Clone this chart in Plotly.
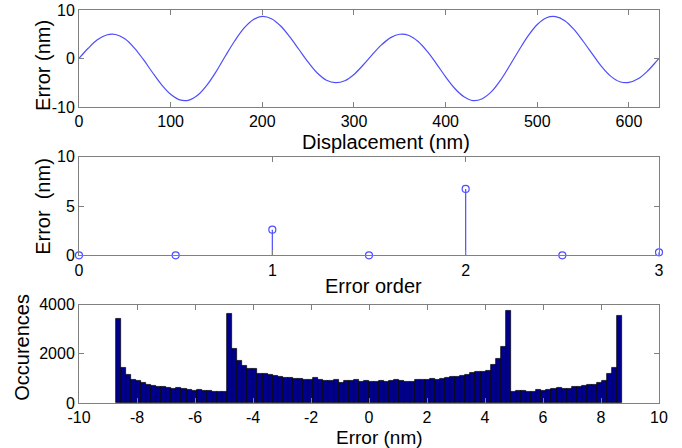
import numpy as np
import plotly.graph_objects as go

# ---- data ----
disp_nm = [0, 10, 20, 30, 40, 50, 60, 70, 80, 90, 100, 110, 120, 130, 140, 150,
           160, 170, 180, 190, 200, 210, 220, 230, 240, 250, 260, 270, 280, 290,
           300, 310, 320, 330, 340, 350, 360, 370, 380, 390, 400, 410, 420, 430,
           440, 450, 460, 470, 480, 490, 500, 510, 520, 530, 540, 550, 560, 570,
           580, 590, 600, 610, 620, 630, 632.8]
error_nm = [0.0, 2.1, 3.85, 4.85, 4.95, 4.05, 2.25, -0.15, -2.85, -5.4, -7.4, -8.55,
            -8.6, -7.5, -5.4, -2.6, 0.6, 3.65, 6.25, 8.0, 8.7, 8.2, 6.7, 4.45, 1.85,
            -0.75, -3.0, -4.5, -5.0, -4.6, -3.3, -1.35, 0.8, 2.8, 4.3, 5.0, 4.75,
            3.5, 1.45, -1.1, -3.8, -6.2, -7.9, -8.7, -8.3, -6.85, -4.45, -1.45, 1.7,
            4.65, 7.0, 8.4, 8.65, 7.8, 6.0, 3.55, 0.95, -1.65, -3.65, -4.8, -4.95,
            -4.2, -2.65, -0.6, 0.0]

order = [0, 0.5, 1, 1.5, 2, 2.5, 3]
order_amp = [0.0, 0.0, 2.6, 0.0, 6.75, 0.0, 0.3]

hist_lo, hist_hi = -8.74, 8.74
counts = [3440, 1455, 1130, 950, 910, 815, 735, 710, 650, 680, 600, 570, 610, 570,
          545, 515, 545, 515, 490, 475, 475, 460,
          3650, 2200, 1740, 1520, 1380, 1380, 1190, 1170, 1130, 1110, 1080, 1040,
          1010, 990, 980, 960, 940, 1040, 930, 920, 920, 930, 840, 900, 910, 930,
          880, 900,
          860, 870, 910, 880, 920, 930, 900, 880, 880, 940, 960, 950, 970, 960,
          1000, 1020, 1050, 1060, 1100, 1150, 1220, 1260, 1290, 1330, 1540, 1800,
          2270, 3770,
          460, 515, 490, 475, 475, 545, 515, 545, 570, 600, 570, 570, 650, 680,
          710, 735, 760, 815, 910, 1200, 1430, 3540]

disp_ticks = [0, 100, 200, 300, 400, 500, 600]
err_ticks = [-10, 0, 10]
order_ticks = [0, 1, 2, 3]
amp_ticks = [0, 5, 10]
hist_xticks = [-10, -8, -6, -4, -2, 0, 2, 4, 6, 8, 10]
hist_yticks = [0, 2000, 4000]

titles = ["Displacement (nm)", "Error (nm)", "Error order", "Error\u00a0 (nm)", "Error (nm)", "Occurences"]

# ---- figure ----
W, H = 682, 448
TOP_PX, BOT_PX = 10, 403.3
M_L, M_R = 79, 23
PW = W - M_L - M_R
PH = BOT_PX - TOP_PX
def dom(top_px, bot_px):
    return [(BOT_PX - bot_px) / PH, (BOT_PX - top_px) / PH]
def px2paper(xp, yp):
    return (xp - M_L) / PW, (BOT_PX - yp) / PH

FONT = "Liberation Sans, Arial, Helvetica, sans-serif"
AX_COL = "#808080"
BLUE = "#4d4dff"

fig = go.Figure()

fig.add_trace(go.Scatter(x=disp_nm, y=error_nm, mode="lines",
                         line=dict(color=BLUE, width=1.2, shape="spline", smoothing=1.0),
                         xaxis="x", yaxis="y", showlegend=False))

stem_x, stem_y = [], []
for xv, yv in zip(order, order_amp):
    stem_x += [xv, xv, None]
    stem_y += [0, yv, None]
fig.add_trace(go.Scatter(x=stem_x, y=stem_y, mode="lines", line=dict(color=BLUE, width=1.2),
                         xaxis="x2", yaxis="y2", showlegend=False, hoverinfo="skip"))
fig.add_trace(go.Scatter(x=order, y=order_amp, mode="markers",
                         marker=dict(symbol="circle-open", size=7, color=BLUE, line=dict(width=1.2, color=BLUE)),
                         xaxis="x2", yaxis="y2", showlegend=False, cliponaxis=False))

edges = np.linspace(hist_lo, hist_hi, len(counts) + 1)
centers = (edges[:-1] + edges[1:]) / 2
fig.add_trace(go.Bar(x=centers, y=counts, width=edges[1] - edges[0],
                     marker=dict(color="#00008c", line=dict(color="#000000", width=0.7)),
                     xaxis="x3", yaxis="y3", showlegend=False))

common = dict(showline=True, linecolor=AX_COL, linewidth=1, mirror="ticks", ticks="inside",
              ticklen=5, tickcolor=AX_COL, showgrid=False, zeroline=False, automargin=False,
              tickfont=dict(family=FONT, size=16, color="#000"))

def tt(vals):
    return dict(tickvals=vals, ticktext=[str(v) for v in vals])

fig.update_layout(
    width=W, height=H, margin=dict(l=M_L, r=M_R, t=TOP_PX, b=H - BOT_PX),
    paper_bgcolor="white", plot_bgcolor="white", bargap=0,
    xaxis=dict(domain=[0, 1], anchor="y", range=[0, 632.8], **tt(disp_ticks), **common),
    yaxis=dict(domain=dom(10, 107), anchor="x", range=[-10, 10], **tt(err_ticks), **common),
    xaxis2=dict(domain=[0, 1], anchor="y2", range=[0, 3], **tt(order_ticks), **common),
    yaxis2=dict(domain=dom(157, 255.5), anchor="x2", range=[0, 10], **tt(amp_ticks), **common),
    xaxis3=dict(domain=[0, 1], anchor="y3", range=[-10, 10], **tt(hist_xticks), **common),
    yaxis3=dict(domain=dom(305, 403.3), anchor="x3", range=[0, 4000], **tt(hist_yticks), **common),
)

# axis titles placed like the reference (pixel centres)
title_pos = [(386, 142, 0, 20), (43, 66, -90, 20), (373, 286, 0, 20), (43, 207, -90, 20),
             (379, 437.5, 0, 19), (22, 348, -90, 20)]
for text, (xp, yp, rot, fs) in zip(titles, title_pos):
    ax_, ay_ = px2paper(xp, yp)
    fig.add_annotation(text=text, x=ax_, y=ay_, xref="paper", yref="paper", xanchor="center",
                       yanchor="middle", showarrow=False, textangle=rot,
                       font=dict(family=FONT, size=fs, color="#000"))

fig.write_html("out.html")
